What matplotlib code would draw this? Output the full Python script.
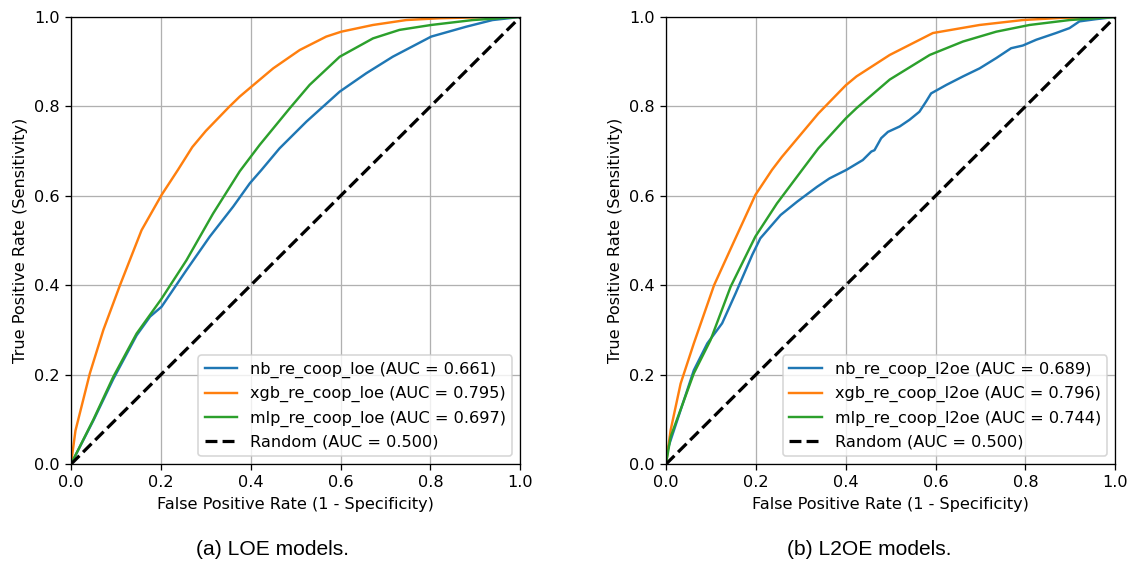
import numpy as np
import matplotlib.pyplot as plt

# ROC points (fpr, tpr)
NB_LOE_FPR = [0.0, 0.05, 0.094, 0.146, 0.176, 0.2016, 0.257, 0.309, 0.361, 0.398, 0.424, 0.464,
              0.524, 0.598, 0.657, 0.716, 0.8015, 0.879, 0.938, 1.0]
NB_LOE_TPR = [0.0, 0.098, 0.19, 0.288, 0.33, 0.352, 0.434, 0.509, 0.576, 0.628, 0.658, 0.706,
              0.766, 0.833, 0.874, 0.911, 0.956, 0.978, 0.993, 1.0]

XGB_LOE_FPR = [0.0, 0.01, 0.042, 0.072, 0.109, 0.157, 0.2016, 0.238, 0.27, 0.3, 0.352, 0.3756,
               0.4015, 0.45, 0.509, 0.568, 0.6015, 0.672, 0.746, 0.82, 0.9, 1.0]
XGB_LOE_TPR = [0.0, 0.075, 0.203, 0.3, 0.4, 0.523, 0.602, 0.658, 0.709, 0.745, 0.799, 0.822,
               0.844, 0.885, 0.926, 0.956, 0.967, 0.982, 0.993, 0.997, 0.999, 1.0]

MLP_LOE_FPR = [0.0, 0.05, 0.094, 0.146, 0.2016, 0.257, 0.316, 0.3756, 0.42, 0.487, 0.531,
               0.598, 0.672, 0.731, 0.8015, 0.894, 1.0]
MLP_LOE_TPR = [0.0, 0.1, 0.195, 0.292, 0.37, 0.456, 0.56, 0.655, 0.714, 0.796, 0.848,
               0.911, 0.952, 0.971, 0.982, 0.993, 1.0]

NB_L2OE_FPR = [0.0, 0.003, 0.062, 0.092, 0.125, 0.155, 0.192, 0.21, 0.255, 0.292, 0.336, 0.364,
               0.4015, 0.438, 0.457, 0.464, 0.479, 0.494, 0.52, 0.542, 0.564, 0.579, 0.59, 0.624,
               0.661, 0.698, 0.735, 0.768, 0.794, 0.824, 0.868, 0.898, 0.92, 0.957, 1.0]
NB_L2OE_TPR = [0.0, 0.031, 0.21, 0.27, 0.315, 0.382, 0.468, 0.505, 0.557, 0.587, 0.62, 0.639,
               0.658, 0.68, 0.699, 0.702, 0.729, 0.743, 0.755, 0.77, 0.788, 0.811, 0.829, 0.848,
               0.867, 0.885, 0.908, 0.93, 0.936, 0.949, 0.964, 0.975, 0.99, 0.995, 1.0]

XGB_L2OE_FPR = [0.0, 0.0104, 0.0326, 0.062, 0.107, 0.151, 0.199, 0.236, 0.258, 0.339, 0.4, 0.424,
                0.498, 0.594, 0.698, 0.794, 0.883, 1.0]
XGB_L2OE_TPR = [0.0, 0.076, 0.18, 0.27, 0.4, 0.497, 0.602, 0.658, 0.687, 0.784, 0.847, 0.867,
                0.915, 0.964, 0.982, 0.993, 0.998, 1.0]

MLP_L2OE_FPR = [0.0, 0.0104, 0.062, 0.099, 0.144, 0.199, 0.247, 0.303, 0.339, 0.4, 0.424, 0.498,
                0.587, 0.661, 0.735, 0.809, 0.898, 1.0]
MLP_L2OE_TPR = [0.0, 0.061, 0.203, 0.277, 0.397, 0.509, 0.583, 0.658, 0.706, 0.773, 0.796, 0.86,
                0.915, 0.945, 0.967, 0.982, 0.993, 1.0]

LOE_NAMES = ['nb_re_coop_loe', 'xgb_re_coop_loe', 'mlp_re_coop_loe']
LOE_AUC = [0.661, 0.795, 0.697]
L2OE_NAMES = ['nb_re_coop_l2oe', 'xgb_re_coop_l2oe', 'mlp_re_coop_l2oe']
L2OE_AUC = [0.689, 0.796, 0.744]
CAPTIONS = ['(a) LOE models.', '(b) L2OE models.']

DPI = 116


def draw_roc(ax, curves, names, aucs):
    for (fpr, tpr), name, auc in zip(curves, names, aucs):
        ax.plot(fpr, tpr, lw=1.5, label=f'{name} (AUC = {auc:.3f})')
    ax.plot([0, 1], [0, 1], 'k--', lw=2, label='Random (AUC = 0.500)')
    ax.set_xlim(0, 1)
    ax.set_ylim(0, 1)
    ax.set_xlabel('False Positive Rate (1 - Specificity)')
    ax.set_ylabel('True Positive Rate (Sensitivity)')
    ax.grid(True)
    ax.legend(loc='lower right')


fig = plt.figure(figsize=(1132 / DPI, 564 / DPI), dpi=DPI)
ax1 = fig.add_axes([0.0627, 0.177, 0.397, 0.793])
ax2 = fig.add_axes([0.5883, 0.177, 0.397, 0.793])

draw_roc(ax1, [(NB_LOE_FPR, NB_LOE_TPR), (XGB_LOE_FPR, XGB_LOE_TPR), (MLP_LOE_FPR, MLP_LOE_TPR)],
         LOE_NAMES, LOE_AUC)
draw_roc(ax2, [(NB_L2OE_FPR, NB_L2OE_TPR), (XGB_L2OE_FPR, XGB_L2OE_TPR), (MLP_L2OE_FPR, MLP_L2OE_TPR)],
         L2OE_NAMES, L2OE_AUC)

fig.text(272 / 1132, 0.025, CAPTIONS[0], ha='center', va='center', fontsize=13, family='Liberation Sans')
fig.text(869 / 1132, 0.025, CAPTIONS[1], ha='center', va='center', fontsize=13, family='Liberation Sans')

fig.savefig('out.png', dpi=DPI)
